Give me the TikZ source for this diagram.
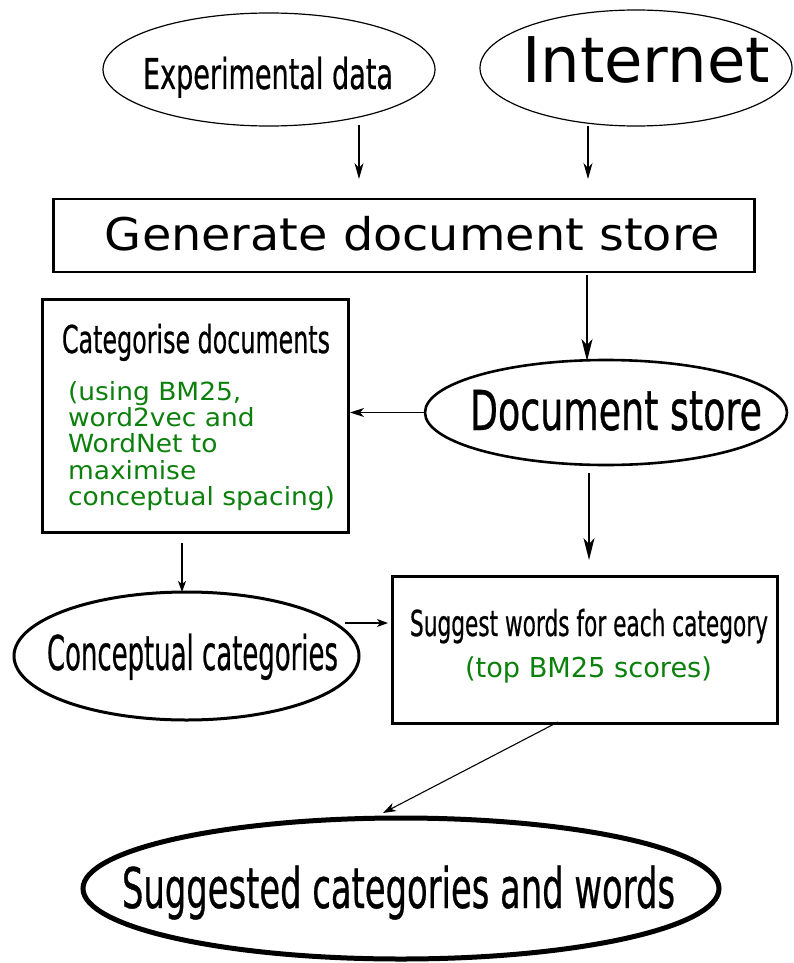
\documentclass[tikz,border=0pt]{standalone}
\usepackage{fontspec}
\setmainfont{DejaVu Sans}
\newfontfamily\condf[FakeBold=0.7]{DejaVu Sans}
\usetikzlibrary{shapes.geometric,arrows.meta,calc}
\definecolor{grn}{RGB}{12,128,12}
\newcommand{\fitw}[3]{\resizebox{#1pt}{\height}{\fontsize{#2}{#2}\selectfont #3}}
\newcommand{\fitc}[3]{\resizebox{#1pt}{\height}{\condf\fontsize{#2}{#2}\selectfont #3}}
\begin{document}
\begin{tikzpicture}[x=1pt,y=-1pt,
  ell/.style={ellipse,draw,inner sep=0pt,outer sep=0pt},
  boxn/.style={rectangle,draw,inner sep=0pt,outer sep=0pt},
  lbl/.style={inner sep=0pt,outer sep=0pt,anchor=base},
  arr/.style={line width=1.1pt,-{Stealth[length=16pt,width=9pt,inset=5pt]}},
  arrs/.style={line width=1.1pt,-{Stealth[length=11pt,width=8pt,inset=3pt]}}]
\useasboundingbox (0,0) rectangle (793,963);

% shapes
\node[ell,line width=1.2pt,minimum width=332pt,minimum height=113pt] (exp) at (269,69.5) {};
\node[ell,line width=1.2pt,minimum width=312pt,minimum height=116pt] (inet) at (636,68) {};
\node[boxn,line width=2.6pt,minimum width=701pt,minimum height=73pt] (gen) at (404,235.5) {};
\node[ell,line width=2.6pt,minimum width=362pt,minimum height=105pt] (doc) at (606,412.5) {};
\node[boxn,line width=3pt,minimum width=306pt,minimum height=233pt] (cat) at (195,415.5) {};
\node[ell,line width=3pt,minimum width=345pt,minimum height=128pt] (con) at (186.5,656) {};
\node[boxn,line width=3pt,minimum width=385pt,minimum height=147pt] (sug) at (584.5,649.5) {};
\node[ell,line width=5pt,minimum width=636pt,minimum height=141pt] (fin) at (401,888.5) {};

% texts
\node[lbl] (texp) at (268,89) {\fitc{250}{42.5}{Experimental data}};
\node[lbl] (tinet) at (646,83) {\fitw{248}{63}{Internet}};
\node[lbl] (tgen) at (412.5,250) {\fitw{615}{45}{Generate document store}};
\node[lbl] (tcat) at (196,353) {\fitc{268}{38.4}{Categorise documents}};
\node[inner sep=0pt,outer sep=0pt,anchor=base west,text=grn] (tcatg) at (68,400)
  {\resizebox{267pt}{\height}{\fontsize{25}{25}\selectfont\begin{tabular}[t]{@{}l@{}}(using BM25,\\ word2vec and\\ WordNet to\\ maximise\\ conceptual spacing)\end{tabular}}};
\node[lbl] (tdoc) at (616,430) {\fitc{292}{55}{Document store}};
\node[lbl] (tcon) at (192.5,670) {\fitc{291}{48}{Conceptual categories}};
\node[lbl] (tsug) at (589,636) {\fitc{358}{35.7}{Suggest words for each category}};
\node[lbl,text=grn] (tsugg) at (588.5,677) {\fitw{247}{27.4}{(top BM25 scores)}};
\node[lbl] (tfin) at (398.5,908) {\fitc{553}{56}{Suggested categories and words}};

% connectors
\draw[arr] ($(exp.south)+(90,-1)$) -- ($(gen.north)+(-45,-20)$);
\draw[arr] ($(inet.south)+(-48,0)$) -- ($(gen.north)+(184,-20)$);
\draw[arr,line width=1.4pt,-{Stealth[length=22pt,width=11pt,inset=6pt]}] ($(gen.south)+(183,3)$) -- ($(doc.north)+(-19,1)$);
\draw[arrs,-{Stealth[length=14pt,width=9pt,inset=4pt]}] (doc.west) -- ($(doc.west -| cat.east)+(2,0)$);
\draw[arr,line width=1.4pt,-{Stealth[length=22pt,width=11pt,inset=6pt]}] ($(doc.south)+(-17,8)$) -- ($(sug.north)+(4.5,-16)$);
\draw[arrs] ($(cat.south)+(-13,11)$) -- ($(con.north)+(-4.5,0)$);
\draw[arrs] ($(con.east)+(-14,-33)$) -- ($(sug.west)+(-4,-26.5)$);
\draw[arrs,-{Stealth[length=13pt,width=9pt,inset=4pt]}] ($(sug.south)+(-26.5,-1)$) -- ($(fin.north)+(-18,-5)$);
\end{tikzpicture}
\end{document}
